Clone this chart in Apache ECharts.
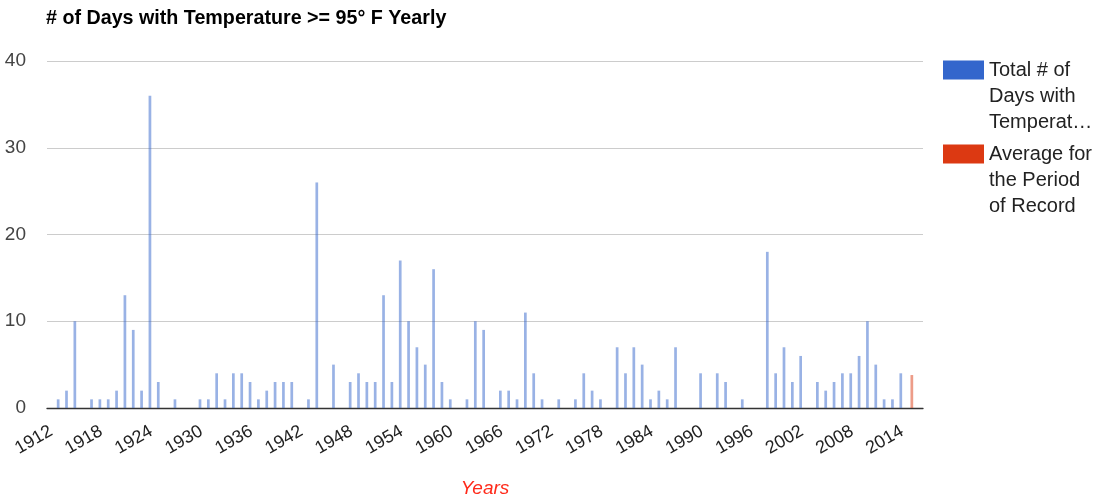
<!DOCTYPE html>
<html>
<head>
<meta charset="utf-8">
<script src="https://cdn.jsdelivr.net/npm/echarts@6/dist/echarts.min.js"></script>
<style>
  html, body { margin: 0; padding: 0; background: #fff; }
  #chart { width: 1097px; height: 500px; }
</style>
</head>
<body>
<div id="chart"></div>
<script>
// Categories: years 1912 .. 2016
const years = [
  '1912','1913','1914','1915','1916','1917','1918','1919','1920','1921',
  '1922','1923','1924','1925','1926','1927','1928','1929','1930','1931',
  '1932','1933','1934','1935','1936','1937','1938','1939','1940','1941',
  '1942','1943','1944','1945','1946','1947','1948','1949','1950','1951',
  '1952','1953','1954','1955','1956','1957','1958','1959','1960','1961',
  '1962','1963','1964','1965','1966','1967','1968','1969','1970','1971',
  '1972','1973','1974','1975','1976','1977','1978','1979','1980','1981',
  '1982','1983','1984','1985','1986','1987','1988','1989','1990','1991',
  '1992','1993','1994','1995','1996','1997','1998','1999','2000','2001',
  '2002','2003','2004','2005','2006','2007','2008','2009','2010','2011',
  '2012','2013','2014','2015','2016'
];

// Total # of days with temperature >= 95 F, per year
const totalDays = [
  0, 1, 2, 10, 0, 1, 1, 1, 2, 13,
  9, 2, 36, 3, 0, 1, 0, 0, 1, 1,
  4, 1, 4, 4, 3, 1, 2, 3, 3, 3,
  0, 1, 26, 0, 5, 0, 3, 4, 3, 3,
  13, 3, 17, 10, 7, 5, 16, 3, 1, 0,
  1, 10, 9, 0, 2, 2, 1, 11, 4, 1,
  0, 1, 0, 1, 4, 2, 1, 0, 7, 4,
  7, 5, 1, 2, 1, 7, 0, 0, 4, 0,
  4, 3, 0, 1, 0, 0, 18, 4, 7, 3,
  6, 0, 3, 2, 3, 4, 4, 6, 10, 5,
  1, 1, 4, null, null
];

// Average for the period of record (only shown on 2015)
const averageDays = [
  null, null, null, null, null, null, null, null, null, null,
  null, null, null, null, null, null, null, null, null, null,
  null, null, null, null, null, null, null, null, null, null,
  null, null, null, null, null, null, null, null, null, null,
  null, null, null, null, null, null, null, null, null, null,
  null, null, null, null, null, null, null, null, null, null,
  null, null, null, null, null, null, null, null, null, null,
  null, null, null, null, null, null, null, null, null, null,
  null, null, null, null, null, null, null, null, null, null,
  null, null, null, null, null, null, null, null, null, null,
  null, null, null, 3.8, null
];

const yTicks = [0, 10, 20, 30, 40];

const seriesNames = [
  'Total # of Days with Temperature >= 95° F',
  'Average for the Period of Record'
];
// Two blank lines first so the first text line sits beside the swatch
const legendLabels = {};
legendLabels[seriesNames[0]] = '\n\nTotal # of\nDays with\nTemperat…';
legendLabels[seriesNames[1]] = '\n\nAverage for\nthe Period\nof Record';

const FONT = 'Liberation Sans, Arial, sans-serif';

const chart = echarts.init(document.getElementById('chart'));
chart.setOption({
  animation: false,
  backgroundColor: '#ffffff',
  textStyle: { fontFamily: FONT },
  title: {
    text: '# of Days with Temperature >= 95° F Yearly',
    left: 46,
    top: 9,
    padding: 0,
    textStyle: {
      fontFamily: FONT,
      fontSize: 19.7, fontWeight: 'bold', color: '#000', lineHeight: 20
    }
  },
  legend: {
    orient: 'vertical',
    left: 943,
    top: 5,
    padding: 0,
    itemWidth: 41,
    itemHeight: 19,
    itemGap: -46,
    selectedMode: false,
    icon: 'rect',
    data: [
      { name: seriesNames[0], itemStyle: { color: '#3366cc', opacity: 1 } },
      { name: seriesNames[1], itemStyle: { color: '#dc3912', opacity: 1 } }
    ],
    formatter: function (name) { return legendLabels[name]; },
    textStyle: {
      fontFamily: FONT,
      fontSize: 20, color: '#222', lineHeight: 26
    }
  },
  grid: {
    left: 47, right: 174, top: 61, bottom: 92,
    containLabel: false,
    outerBoundsMode: 'none'
  },
  xAxis: {
    type: 'category',
    data: years,
    boundaryGap: true,
    name: 'Years',
    nameLocation: 'middle',
    nameGap: 71,
    nameTextStyle: {
      fontFamily: FONT,
      fontSize: 19, fontStyle: 'italic', color: '#ff2a1a'
    },
    axisLine: { show: true, lineStyle: { color: '#333', width: 1.3 } },
    axisTick: { show: false },
    axisLabel: {
      interval: 5,
      rotate: 30,
      margin: 22,
      fontSize: 18,
      color: '#222',
      fontFamily: FONT
    },
    splitLine: { show: false }
  },
  yAxis: {
    type: 'value',
    min: yTicks[0],
    max: yTicks[yTicks.length - 1],
    interval: 10,
    axisLine: { show: false },
    axisTick: { show: false },
    axisLabel: {
      margin: 21,
      fontSize: 19,
      color: '#444',
      fontFamily: FONT
    },
    splitLine: { lineStyle: { color: '#cccccc', width: 1 } }
  },
  series: [
    {
      name: seriesNames[0],
      type: 'bar',
      data: totalDays,
      barWidth: 2.7,
      barGap: '0%',
      itemStyle: { color: 'rgba(51,102,204,0.5)' }
    },
    {
      name: seriesNames[1],
      type: 'bar',
      data: averageDays,
      barWidth: 2.7,
      barGap: '0%',
      itemStyle: { color: 'rgba(220,57,18,0.5)' }
    }
  ]
});
</script>
</body>
</html>
